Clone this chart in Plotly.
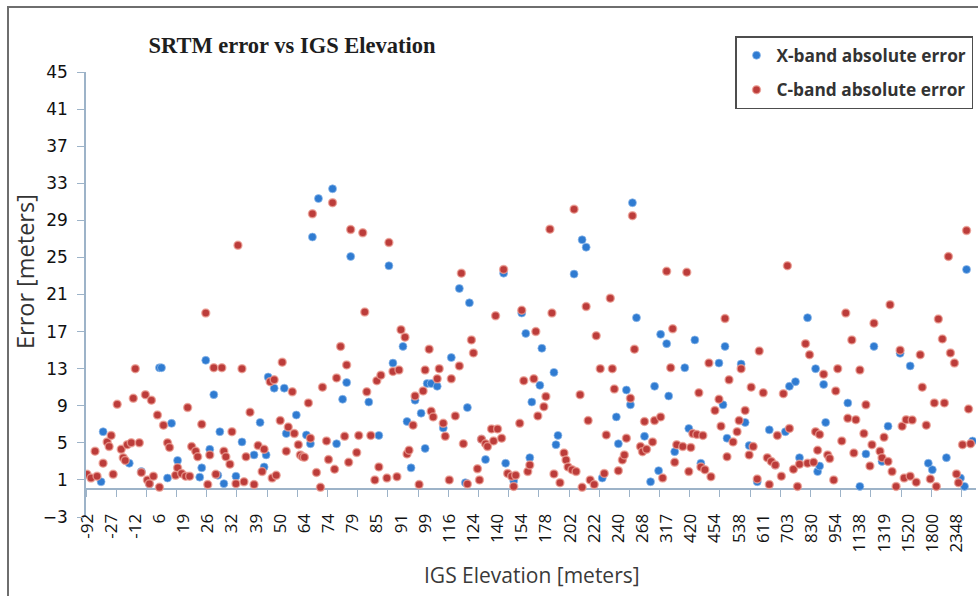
import plotly.graph_objects as go

# ---- data (station order along the x axis) ----
n_stations = 441
elevation_labels = ["-92", "-27", "-12", "6", "19", "26", "32", "39", "50", "64", "74", "79",
                    "85", "91", "99", "116", "124", "140", "154", "178", "202", "222", "240",
                    "268", "317", "420", "454", "538", "611", "703", "830", "954", "1138",
                    "1319", "1520", "1800", "2348"]
label_step = 12
tick_step = 15

c_band_station = [0, 2, 4, 5, 8, 10, 11, 12, 13, 15, 17, 18, 19, 20, 22, 23, 24, 26, 27, 29, 30, 31, 32, 33, 35, 36, 38, 40, 41, 44, 45, 47, 49, 50, 51, 52, 54, 55, 57, 59, 60, 61, 63, 64, 67, 68, 69, 71, 72, 74, 75, 77, 78, 79, 81, 83, 85, 87, 88, 91, 92, 93, 94, 96, 97, 99, 100,
                  102, 103, 105, 106, 107, 108, 110, 111, 112, 114, 116, 117, 119, 120, 122, 123, 124, 126, 128, 129, 130, 131, 134, 135, 137, 138, 139, 141, 143, 144, 145, 146, 149, 150, 152, 154, 155, 156, 158, 159, 160, 162, 163, 165, 167, 168, 170, 171, 172, 174, 175, 177, 178, 180, 181, 183, 185, 186, 187, 189, 191, 192, 194, 195, 196, 198, 199, 201, 202, 203, 204, 206, 207, 209,
                  211, 212, 213, 215, 216, 217, 219, 220, 222, 223, 224, 227, 228, 230, 231, 232, 235, 237, 238, 239, 241, 242, 243, 245, 246, 248, 249, 250, 252, 253, 255, 257, 258, 260, 261, 262, 264, 266, 267, 268, 270, 271, 272, 275, 276, 277, 278, 281, 282, 285, 286, 288, 290, 291, 292, 293, 296, 298, 299, 300, 301, 303, 304, 305, 306, 307, 309, 310, 312, 314, 315, 317, 318, 319,
                  321, 323, 324, 325, 327, 329, 330, 331, 333, 334, 336, 338, 339, 340, 342, 343, 345, 346, 348, 349, 351, 353, 354, 357, 358, 359, 361, 362, 363, 364, 366, 368, 369, 371, 372, 373, 375, 377, 378, 380, 381, 382, 384, 386, 387, 389, 390, 391, 394, 395, 396, 398, 399, 400, 402, 404, 405, 406, 407, 409, 410, 412, 414, 415, 417, 419, 421, 422, 423, 425, 426, 428, 429, 431, 432, 433, 435, 437, 438, 439]
c_band_error = [1.6, 1.2, 4.1, 1.4, 2.8, 5.1, 4.6, 5.8, 1.6, 9.15, 4.3, 3.4, 3.1, 4.8, 5.0, 9.8, 13.0, 5.0, 1.8, 10.2, 1.0, 0.6, 9.6, 1.4, 8.0, 0.2, 6.9, 5.0, 4.5, 1.5, 2.3, 1.7, 1.4, 8.8, 1.4, 4.6, 4.1, 3.5, 7.0, 19.0, 0.5, 3.7, 13.1, 1.6, 13.1, 4.1, 3.5, 2.7, 6.2, 0.6, 26.3, 13.0, 0.8, 3.5, 8.3, 0.5, 4.7, 1.9, 4.3, 11.6, 1.2, 11.8, 1.5, 7.4, 13.7, 4.1, 6.7,
                10.5, 6.0, 4.8, 3.7, 3.5, 3.45, 9.3, 5.5, 29.7, 1.8, 0.2, 11.0, 5.2, 3.2, 30.9, 2.15, 12.0, 15.4, 5.7, 13.4, 2.9, 28.0, 3.95, 5.8, 27.65, 19.1, 10.5, 5.8, 1.0, 11.7, 2.4, 12.3, 1.2, 26.6, 12.7, 1.35, 12.85, 17.2, 16.4, 3.8, 4.2, 6.9, 10.05, 0.5, 10.6, 12.85, 15.1, 8.4, 7.8, 11.9, 13.0, 7.1, 5.7, 1.0, 11.9, 7.9, 13.3, 23.3, 4.9, 0.55, 16.1, 14.7, 2.2, 1.0, 5.4, 4.9, 4.6, 6.5, 5.2, 18.7, 6.5, 5.5, 23.7, 1.7,
                1.4, 0.3, 1.5, 7.1, 19.3, 11.7, 1.9, 2.6, 11.9, 17.0, 7.9, 8.9, 10.0, 28.05, 19.0, 1.65, 0.7, 3.9, 3.15, 2.4, 2.1, 30.2, 1.9, 10.2, 0.2, 19.7, 7.4, 1.0, 0.5, 16.55, 13.0, 1.7, 5.85, 20.6, 13.0, 10.8, 2.0, 3.15, 3.7, 5.5, 9.8, 29.5, 15.1, 4.6, 4.05, 7.3, 4.3, 5.1, 7.4, 7.8, 1.2, 23.5, 13.1, 17.3, 2.9, 4.8, 4.6, 23.4, 1.9, 4.5, 6.0, 5.9, 10.4, 2.4, 5.8, 2.1, 13.6, 1.35, 8.5, 9.7, 6.8, 18.4, 3.5, 11.8,
                5.1, 6.2, 7.4, 13.0, 8.5, 3.7, 11.0, 4.6, 1.1, 14.9, 10.4, 3.4, 0.5, 3.0, 2.6, 5.8, 1.4, 10.3, 24.1, 6.55, 2.15, 0.3, 2.7, 15.7, 2.8, 14.5, 2.9, 6.2, 4.2, 5.9, 12.4, 3.7, 3.3, 1.0, 10.6, 13.0, 5.2, 19.0, 7.65, 16.1, 3.9, 7.5, 12.85, 6.0, 9.1, 2.5, 4.8, 17.9, 4.1, 3.4, 5.6, 3.0, 19.9, 1.9, 0.3, 15.0, 6.8, 1.2, 7.5, 1.4, 7.45, 0.75, 14.5, 11.0, 6.9, 1.1, 9.3, 0.3, 18.35, 16.2, 9.3, 25.1, 14.7, 13.6, 1.65, 0.7, 4.8, 27.9, 8.65, 4.9]

x_band_station = [7, 8, 21, 27, 31, 36, 37, 40, 42, 45, 56, 57, 59, 61, 63, 65, 66, 68, 74, 77, 83, 86, 88, 89, 90, 93, 98, 99,
                  104, 109, 111, 112, 115, 122, 124, 127, 129, 131, 140, 145, 150, 152, 157, 159, 161, 163, 166, 168, 169, 171, 174, 177, 181, 185, 188, 189, 190, 196, 198, 207, 208,
                  212, 216, 218, 220, 221, 225, 226, 232, 233, 234, 242, 246, 248, 256, 263, 264, 268, 270, 271, 273, 277, 280, 282, 284, 285, 288, 289, 292, 297, 299, 302, 305, 314, 316, 317,
                  318, 325, 327, 329, 333, 339, 342, 347, 349, 352, 354, 358, 362, 363, 364, 366, 367, 378, 384, 387, 391, 395, 398, 404, 409, 418, 420, 427, 434, 436, 437, 440]
x_band_error = [0.8, 6.2, 2.8, 1.9, 0.55, 13.1, 13.1, 1.2, 7.1, 3.1, 1.3, 2.3, 13.9, 4.3, 10.2, 1.5, 6.2, 0.6, 1.4, 5.1, 3.7, 7.2, 2.4, 3.7, 12.1, 10.9, 10.9, 6.0,
                8.0, 5.85, 4.9, 27.2, 31.35, 32.4, 4.9, 9.7, 11.5, 25.1, 9.4, 5.8, 24.1, 13.6, 15.4, 7.3, 2.3, 9.6, 8.2, 4.4, 11.4, 11.4, 11.1, 6.6, 14.2, 21.65, 0.7, 8.8, 20.1, 5.4, 3.2, 23.3, 2.8,
                0.9, 19.0, 16.8, 3.4, 9.4, 11.2, 15.2, 12.6, 4.8, 5.8, 23.2, 26.9, 26.1, 1.2, 7.8, 4.9, 10.7, 9.1, 30.9, 18.5, 5.7, 0.8, 11.1, 2.0, 16.7, 15.7, 10.05, 4.05, 13.1, 6.55, 16.1, 2.8, 13.6, 9.1, 15.4,
                5.5, 13.5, 7.2, 4.7, 0.8, 6.4, 2.6, 6.2, 11.1, 11.6, 3.4, 18.5, 13.0, 1.9, 2.5, 11.3, 7.2, 9.3, 0.3, 3.8, 15.4, 3.0, 6.8, 14.65, 13.3, 2.8, 2.1, 3.4, 1.2, 0.3, 23.7, 5.2]

y_min, y_max, y_step = -3, 45, 4

# ---- geometry (pixels) ----
W, H = 978, 596
M_L, M_R, M_T, M_B = 86, 2, 20, 79
PLOT_TOP = 72                      # pixel row of the top of the y range
paper_h = H - M_T - M_B
paper_w = W - M_L - M_R
dom_top = (H - M_B - PLOT_TOP) / paper_h


def px_x(px):
    return (px - M_L) / paper_w


def px_y(py):
    return (H - M_B - py) / paper_h


BLUE = "#2f7bd1"
RED = "#bc3c3a"
AXIS = "#9db3c8"

fig = go.Figure()
fig.add_trace(go.Scatter(
    x=x_band_station, y=x_band_error, mode="markers", name="X-band absolute error",
    legendgroup="x",
    marker=dict(color=BLUE, size=8, line=dict(color="rgba(150,190,235,0.7)", width=1)),
))
fig.add_trace(go.Scatter(
    x=c_band_station, y=c_band_error, mode="markers", name="C-band absolute error",
    legendgroup="c",
    marker=dict(color=RED, size=8, line=dict(color="rgba(236,160,150,0.75)", width=1.5)),
))

tickvals = [i * label_step for i in range(len(elevation_labels))]

fig.update_layout(
    width=W, height=H,
    margin=dict(l=M_L, r=M_R, t=M_T, b=M_B, autoexpand=False),
    paper_bgcolor="white", plot_bgcolor="white",
    showlegend=True,
    title=dict(text="SRTM error vs IGS Elevation", x=292 / W, xanchor="center",
               y=1 - 45 / H, yanchor="middle",
               font=dict(family="Liberation Serif", size=22.5, color="#1e1e1e", weight="bold")),
    legend=dict(x=px_x(735), xanchor="left", y=px_y(36), yanchor="top",
                bordercolor="#4d4d4d", borderwidth=1.5, bgcolor="white",
                font=dict(family="Open Sans", size=17.3, color="#333333", weight="bold"),
                tracegroupgap=9, traceorder="grouped", itemwidth=30),
    xaxis=dict(
        range=[-0.5, 441.7], anchor="free", position=dom_top * (0 - y_min) / (y_max - y_min),
        showline=True, linecolor=AXIS, linewidth=1.5, showgrid=False, zeroline=False,
        tickmode="array", tickvals=tickvals, ticktext=elevation_labels,
        tickangle=-90, ticks="", ticklabelstandoff=17, automargin=False,
        tickfont=dict(family="Open Sans", size=17, color="#111111"),
        minor=dict(tickmode="linear", tick0=-0.5, dtick=tick_step, ticks="outside",
                   ticklen=7, tickcolor=AXIS, tickwidth=1.2, showgrid=False),
        layer="below traces",
    ),
    yaxis=dict(
        domain=[0, dom_top],
        range=[y_min, y_max], tickmode="linear", tick0=y_min, dtick=y_step,
        showline=True, linecolor=AXIS, linewidth=1.5, showgrid=False, zeroline=False,
        ticks="outside", ticklen=7, tickcolor=AXIS, ticklabelstandoff=6, automargin=False,
        tickfont=dict(family="DejaVu Sans", size=17, color="#111111"),
        layer="below traces",
    ),
    annotations=[
        dict(text="Error [meters]", xref="paper", yref="paper", x=px_x(25),
             y=px_y(272), xanchor="center", yanchor="middle", textangle=-90, showarrow=False,
             font=dict(family="Open Sans", size=23.5, color="#333333")),
        dict(text="IGS Elevation [meters]", xref="paper", yref="paper", x=px_x(532),
             y=px_y(575), xanchor="center", yanchor="middle", showarrow=False,
             font=dict(family="Open Sans", size=21, color="#3a3a3a")),
    ],
    shapes=[
        dict(type="rect", xref="paper", yref="paper",
             x0=px_x(8), x1=px_x(1000), y0=px_y(620), y1=px_y(7),
             line=dict(color="#6e6e6e", width=2), fillcolor="rgba(0,0,0,0)", layer="below"),
    ],
)

fig.write_html("out.html", config={"displayModeBar": False},
               post_script="document.body.style.margin='0px';document.body.style.padding='0px';")
